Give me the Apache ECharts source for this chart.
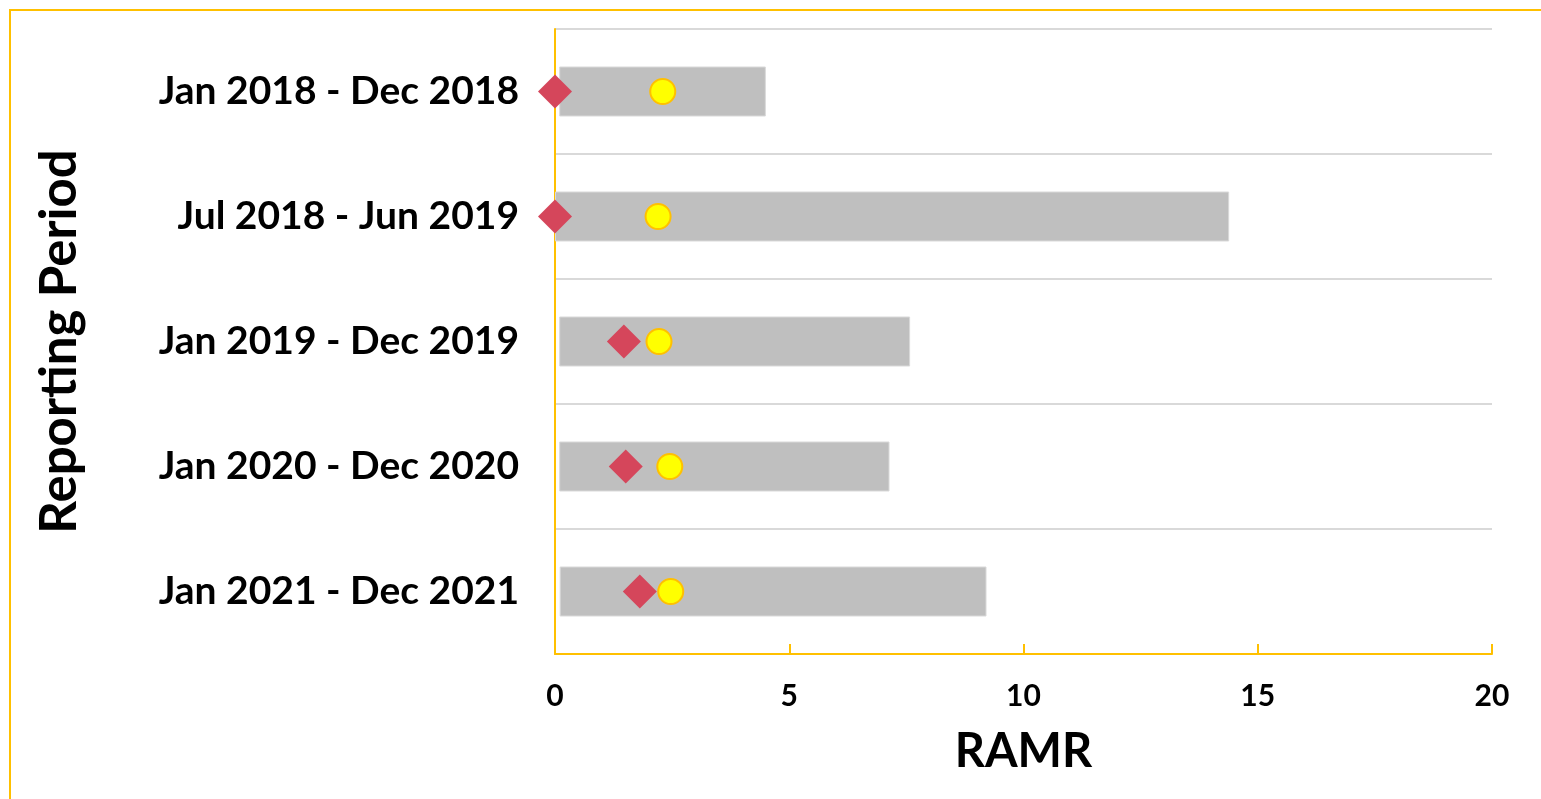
<!DOCTYPE html>
<html>
<head>
<meta charset="utf-8">
<title>RAMR by Reporting Period</title>
<script src="https://cdn.jsdelivr.net/npm/echarts@6/dist/echarts.min.js"></script>
<style>
  html, body { margin: 0; padding: 0; background: #fff; }
  /* fixed size, same as the window */
  #myChart { width: 1541px; height: 799px; }
</style>
</head>
<body>
<div id="myChart"></div>
<script>
// reporting periods (top to bottom)
var periods = ['Jan 2018 - Dec 2018', 'Jul 2018 - Jun 2019', 'Jan 2019 - Dec 2019', 'Jan 2020 - Dec 2020', 'Jan 2021 - Dec 2021']
// grey range bars: lower / upper limits
var lowerLimit = [0.09, 0, 0.09, 0.09, 0.10]
var upperLimit = [4.50, 14.39, 7.58, 7.14, 9.21]
// red diamonds
var diamondValues = [0, 0, 1.47, 1.51, 1.81]
// yellow circles
var circleValues = [2.30, 2.20, 2.22, 2.45, 2.47]
// x axis
var xMin = 0
var xMax = 20
var xStep = 5

var gold = '#ffc000'
var labelFont = 'Lato'

var rangeLength = upperLimit.map(function (v, i) {
  return +(v - lowerLimit[i]).toFixed(2)
})

var myChart = echarts.init(document.getElementById('myChart'))

var option = {
  backgroundColor: '#fff',
  animation: false,
  textStyle: { fontFamily: labelFont },
  // yellow frame round the chart
  graphic: [{
    type: 'rect',
    silent: true,
    shape: { x: 10, y: 10, width: 1600, height: 900 },
    style: { fill: 'none', stroke: gold, lineWidth: 2 }
  }],
  grid: {
    left: 555,
    right: 49,
    top: 29,
    bottom: 145
  },
  xAxis: {
    type: 'value',
    min: xMin,
    max: xMax,
    interval: xStep,
    name: 'RAMR',
    nameLocation: 'middle',
    nameGap: 74,
    nameTextStyle: { fontSize: 47, fontWeight: 'bold', color: '#000' },
    axisLine: { show: true, lineStyle: { color: gold, width: 2 } },
    axisTick: { show: true, inside: true, length: 10, lineStyle: { color: gold, width: 2 } },
    axisLabel: { fontSize: 30, fontWeight: 'bold', color: '#000', margin: 27 },
    splitLine: { show: false }
  },
  yAxis: {
    type: 'category',
    data: periods,
    inverse: true,
    name: 'Reporting Period',
    nameLocation: 'middle',
    nameGap: 470,
    nameTextStyle: { fontSize: 51, fontWeight: 'bold', color: '#000' },
    axisLine: { show: true, lineStyle: { color: gold, width: 2 } },
    axisTick: { show: false },
    axisLabel: { fontSize: 39, fontWeight: 'bold', color: '#000', margin: 36 },
    splitLine: { show: true, lineStyle: { color: '#d9d9d9', width: 2 } }
  },
  series: [
    {
      // invisible base so the grey bar starts at the lower limit
      name: 'base',
      type: 'bar',
      stack: 'range',
      silent: true,
      barWidth: 50,
      itemStyle: { color: 'transparent' },
      data: lowerLimit
    },
    {
      name: 'range',
      type: 'bar',
      stack: 'range',
      barWidth: 50,
      itemStyle: { color: '#bfbfbf', borderColor: '#d9d9d9', borderWidth: 1 },
      data: rangeLength
    },
    {
      name: 'diamond',
      type: 'scatter',
      symbol: 'diamond',
      symbolSize: 34,
      itemStyle: { color: '#d5465b', opacity: 1 },
      z: 3,
      data: diamondValues.map(function (v, i) { return [v, periods[i]] })
    },
    {
      name: 'circle',
      type: 'scatter',
      symbol: 'circle',
      symbolSize: 25,
      itemStyle: { color: '#ffff00', borderColor: gold, borderWidth: 2, opacity: 1 },
      z: 4,
      data: circleValues.map(function (v, i) { return [v, periods[i]] })
    }
  ]
}

myChart.setOption(option)
</script>
</body>
</html>
